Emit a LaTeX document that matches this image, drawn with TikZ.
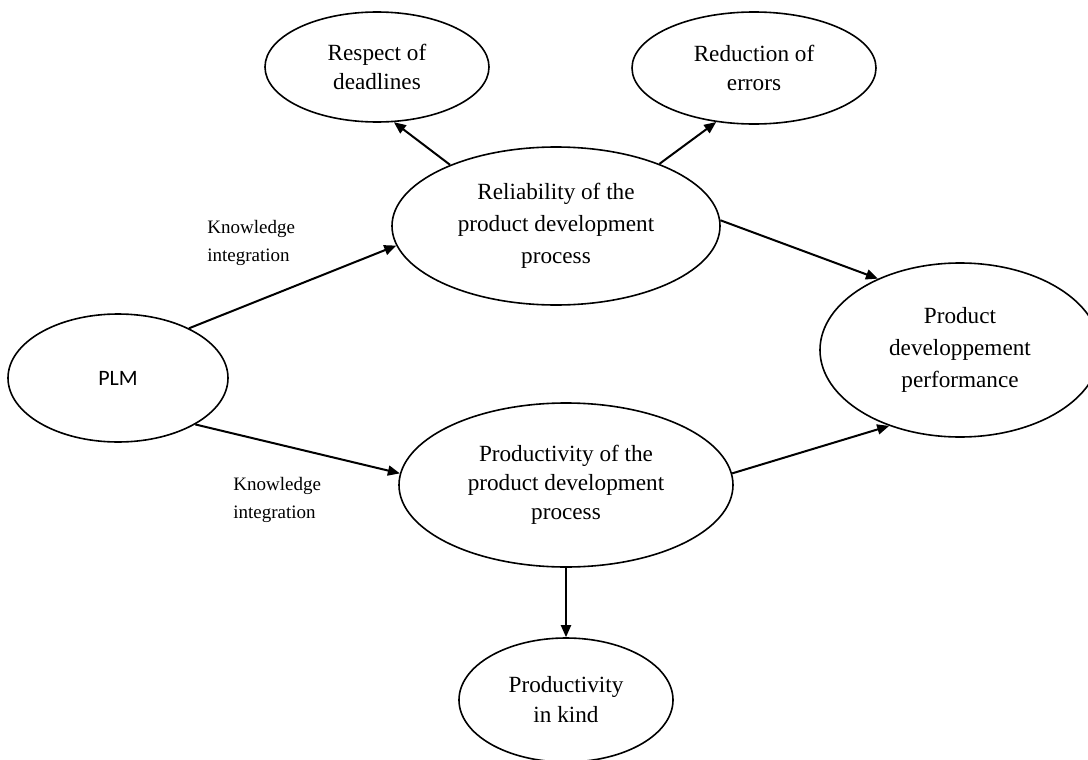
\documentclass[tikz,border=0pt]{standalone}
\usepackage{fontspec}
\setmainfont{Liberation Serif}
\newfontfamily\plmfont{Carlito}
\usetikzlibrary{shapes.geometric,arrows.meta}
\begin{document}
\begin{tikzpicture}[x=0.5pt,y=-0.5pt,
  bubble/.style={draw, ellipse, line width=0.8pt, inner sep=0pt, align=center,
    font=\fontsize{11.6}{14.5}\selectfont},
  link/.style={line width=1pt, -{Triangle[length=6pt,width=5pt]}},
  kilabel/.style={align=left, anchor=west, inner sep=0pt,
    font=\fontsize{9.5}{14}\selectfont}]
\fill[white] (0,0) rectangle (1088,760);
\useasboundingbox (0,0) rectangle (1088,760);

% outcome bubbles
\node[bubble, minimum width=112pt, minimum height=55pt] (respect) at (377,67) {Respect of\\deadlines};
\node[bubble, minimum width=122pt, minimum height=56pt] (reduction) at (754,68) {Reduction of\\errors};
\node[bubble, minimum width=164pt, minimum height=79pt,
  font=\fontsize{11.6}{16}\selectfont] (reliab) at (556,226) {Reliability of the\\product development\\process};
\node[bubble, minimum width=110pt, minimum height=64pt,
  font=\plmfont\fontsize{11}{13}\selectfont] (plm) at (118,378) {PLM};
\node[bubble, minimum width=140pt, minimum height=87pt,
  font=\fontsize{11.6}{16}\selectfont] (pdp) at (960,350) {Product\\developpement\\performance};
\node[bubble, minimum width=167pt, minimum height=82pt] (prod) at (566,485) {Productivity of the\\product development\\process};
\node[bubble, minimum width=107pt, minimum height=62pt,
  font=\fontsize{11.6}{15}\selectfont] (kind) at (566,700) {Productivity\\in kind};

% edge labels
\node[kilabel] (ki1) at (207,243) {Knowledge\\integration};
\node[kilabel] (ki2) at (233,500) {Knowledge\\integration};

% connectors
\draw[link] (plm.35) -- (reliab.187);
\draw[link] (plm.-31) -- (prod.176);
\draw[link] (reliab.150) -- (respect.-73);
\draw[link] (reliab.31) -- (reduction.-125);
\draw[link] (reliab.2) -- (pdp.139);
\draw[link] (prod.4) -- (pdp.227);
\draw[link] (prod.south) -- (kind.north);
\end{tikzpicture}
\end{document}
